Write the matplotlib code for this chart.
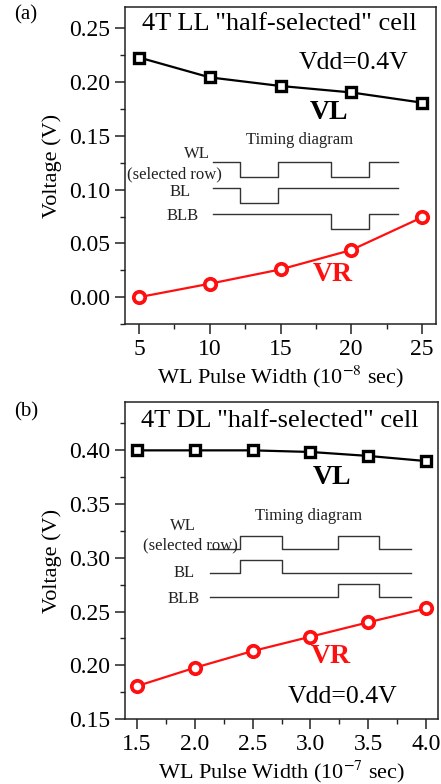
import matplotlib
matplotlib.use('Agg')
import matplotlib.pyplot as plt
from matplotlib.ticker import MultipleLocator, FormatStrFormatter

plt.rcParams['font.family'] = ['Liberation Serif', 'DejaVu Serif']
plt.rcParams['mathtext.fontset'] = 'stix'

# (a) 4T LL cell, pulse width in 1e-8 s
pw_a = [5, 10, 15, 20, 25]
vl_a = [0.223, 0.2045, 0.1965, 0.1905, 0.181]
vr_a = [0.000, 0.0125, 0.0258, 0.0438, 0.0742]

# (b) 4T DL cell, pulse width in 1e-7 s
pw_b = [1.5, 2.0, 2.5, 3.0, 3.5, 4.0]
vl_b = [0.400, 0.400, 0.400, 0.3985, 0.3948, 0.390]
vr_b = [0.1805, 0.1976, 0.2132, 0.2266, 0.2400, 0.2530]

# timing diagram waveforms: edge times and levels per segment
t_a = [0, 27, 65, 118, 156, 185]
wl_a = [1, 0, 1, 0, 1]
bl_a = [1, 0, 1, 1, 1]
blb_a = [1, 1, 1, 0, 1]

t_b = [0, 30, 72, 128, 169, 201]
wl_b = [0, 1, 0, 1, 0]
bl_b = [0, 1, 0, 0, 0]
blb_b = [0, 0, 0, 1, 0]

W, H = 441, 784
fig = plt.figure(figsize=(W / 100, H / 100), dpi=100)


def px_axes(x0, y0, x1, y1):
    # axes box from pixel corners (top-left origin)
    return fig.add_axes([x0 / W, 1 - y1 / H, (x1 - x0) / W, (y1 - y0) / H])


def style(ax):
    for s in ax.spines.values():
        s.set_linewidth(1.1)
        s.set_color('#222222')
    ax.tick_params(which='both', direction='out', top=False, right=False,
                   labelsize=17, color='#222222')
    ax.tick_params(which='major', length=7, width=1.1)
    ax.tick_params(which='minor', length=3.5, width=1.0)
    ax.set_ylabel('Voltage (V)', fontsize=16, labelpad=5)


def timing(box, t, waves, amp, gap, labels):
    x0, y0, x1, y1 = box
    ins = px_axes(x0, y0, x1, y1)
    ins.set_xlim(t[0], t[-1])
    ins.set_ylim(-(2 * gap + amp), 0)
    ins.axis('off')
    ins.patch.set_alpha(0)
    for i, lev in enumerate(waves):
        base = -i * gap - amp
        ys = [base + amp * v for v in lev]
        ins.step(t, ys + [ys[-1]], where='post', color='#333333', lw=1.0,
                 clip_on=False)
    for txt, x, y in labels:
        ins.text(x, y, txt, ha='center', va='center', fontsize=12,
                 color='#222222', clip_on=False)
    return ins


# ---- panel (a) ----
ax1 = px_axes(125, 7, 436, 324)
ax1.plot(pw_a, vl_a, color='black', lw=1.6, marker='s', ms=7.5, mew=2.4,
         mfc='white', mec='black', zorder=3)
ax1.plot(pw_a, vr_a, color='#ff1010', lw=1.6, marker='o', ms=8.2, mew=2.7,
         mfc='white', mec='#ff1010', zorder=3)
ax1.set_xlim(4, 26)
ax1.set_ylim(-0.025, 0.27)
ax1.xaxis.set_major_locator(MultipleLocator(5))
ax1.xaxis.set_minor_locator(MultipleLocator(2.5))
ax1.yaxis.set_major_locator(MultipleLocator(0.05))
ax1.yaxis.set_minor_locator(MultipleLocator(0.025))
ax1.yaxis.set_major_formatter(FormatStrFormatter('%.2f'))
style(ax1)
ax1.set_xlabel('WL Pulse Width (10$^{-8}$ sec)', fontsize=16, labelpad=3)
ax1.text(0.495, 0.98, '4T LL "half-selected" cell', transform=ax1.transAxes,
         ha='center', va='top', fontsize=19)
ax1.text(0.912, 0.823, 'Vdd=0.4V', transform=ax1.transAxes,
         ha='right', va='center', fontsize=18.5)
ax1.text(19.8, 0.1715, 'VL', ha='right', va='center', fontsize=20,
         fontweight='bold', color='black')
ax1.text(20.1, 0.0215, 'VR', ha='right', va='center', fontsize=20,
         fontweight='bold', color='#ff1010')
fig.text(14 / W, 1 - 15 / H, '(a)', ha='left', va='center', fontsize=15)

timing((213, 161.7, 398, 229.3), t_a, [wl_a, bl_a, blb_a], 15, 26.3,
       [('Timing diagram', 87, 21.7), ('WL', -16, 7.7),
        ('(selected row)', -39, -12.3), ('BL', -33, -30),
        ('BLB', -30, -54.3)])

# ---- panel (b) ----
ax2 = px_axes(125, 402, 438, 719)
ax2.plot(pw_b, vl_b, color='black', lw=1.6, marker='s', ms=7.5, mew=2.4,
         mfc='white', mec='black', zorder=3)
ax2.plot(pw_b, vr_b, color='#ff1010', lw=1.6, marker='o', ms=8.2, mew=2.7,
         mfc='white', mec='#ff1010', zorder=3)
ax2.set_xlim(1.4, 4.1)
ax2.set_ylim(0.15, 0.445)
ax2.xaxis.set_major_locator(MultipleLocator(0.5))
ax2.xaxis.set_minor_locator(MultipleLocator(0.25))
ax2.xaxis.set_major_formatter(FormatStrFormatter('%.1f'))
ax2.yaxis.set_major_locator(MultipleLocator(0.05))
ax2.yaxis.set_minor_locator(MultipleLocator(0.025))
ax2.yaxis.set_major_formatter(FormatStrFormatter('%.2f'))
style(ax2)
ax2.set_xlabel('WL Pulse Width (10$^{-7}$ sec)', fontsize=16, labelpad=3)
ax2.text(0.495, 0.975, '4T DL "half-selected" cell', transform=ax2.transAxes,
         ha='center', va='top', fontsize=19)
ax2.text(0.872, 0.069, 'Vdd=0.4V', transform=ax2.transAxes,
         ha='right', va='center', fontsize=18.5)
ax2.text(3.35, 0.375, 'VL', ha='right', va='center', fontsize=20,
         fontweight='bold', color='black')
ax2.text(3.35, 0.208, 'VR', ha='right', va='center', fontsize=20,
         fontweight='bold', color='#ff1010')
fig.text(14 / W, 1 - 412 / H, '(b)', ha='left', va='center', fontsize=15)

timing((210, 536, 411, 597.3), t_b, [wl_b, bl_b, blb_b], 13.3, 24,
       [('Timing diagram', 99, 20), ('WL', -27, 10.3),
        ('(selected row)', -20, -9), ('BL', -26, -36.7),
        ('BLB', -26, -63)])

fig.savefig('out.png', dpi=100)
